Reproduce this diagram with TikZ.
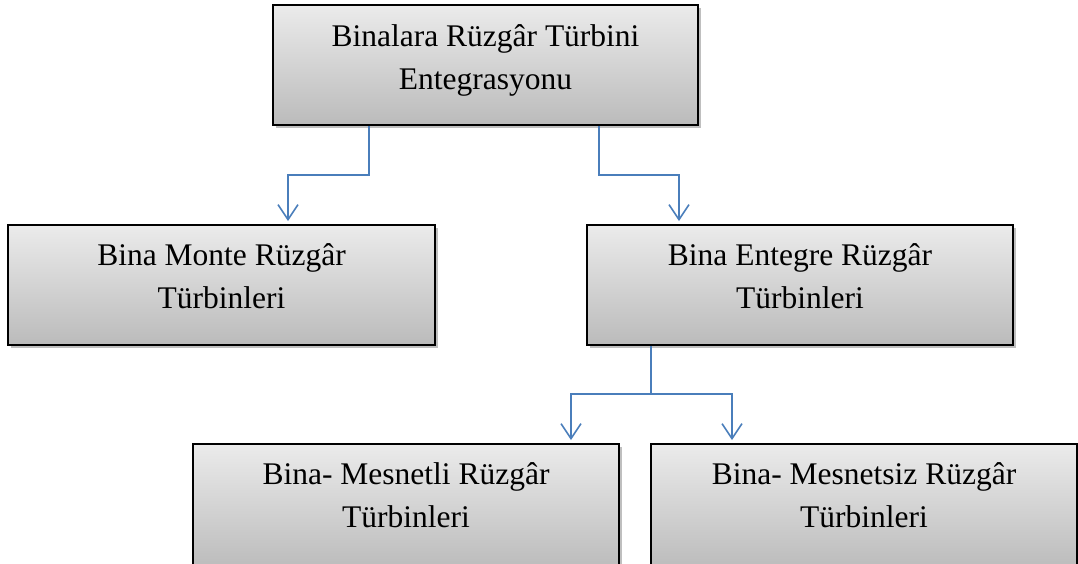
\documentclass[tikz,border=0pt]{standalone}
\usepackage{fontspec}
\setmainfont{Liberation Serif}
\usetikzlibrary{arrows.meta,shadows}
\definecolor{conncol}{HTML}{4A7EBB}
\definecolor{boxtop}{HTML}{EBEBEB}
\definecolor{boxbot}{HTML}{BBBBBB}
\tikzset{
  boxnode/.style={rectangle, draw=black, line width=1.8pt, inner sep=0pt,
    minimum width=426pt, minimum height=120pt,
    top color=boxtop, bottom color=boxbot,
    drop shadow={shadow xshift=2.5pt, shadow yshift=-3pt, fill=black, opacity=0.25}},
  txtnode/.style={anchor=north, inner sep=0pt, align=center,
    font=\fontsize{31.5}{43}\selectfont},
  connline/.style={draw=conncol, line width=1.6pt},
  conn/.style={connline, -{Straight Barb[length=15pt,width=20pt,line width=1.6pt]}, shorten >=3pt},
}
\begin{document}
\begin{tikzpicture}[x=1pt,y=-1pt]
\useasboundingbox (0,0) rectangle (1078,564);
\node[boxnode, minimum width=425pt] (b1) at (485.5,65) {};
\node[boxnode, minimum width=427pt] (b2) at (221.5,285) {};
\node[boxnode] (b3) at (800,285) {};
\node[boxnode, minimum height=126pt] (b4) at (406,507) {};
\node[boxnode, minimum height=126pt] (b5) at (864,507) {};

\node[txtnode] (t1) at ([yshift=-20pt]b1.north) {Binalara Rüzgâr Türbini\\Entegrasyonu};
\node[txtnode] (t2) at ([yshift=-19pt]b2.north) {Bina Monte Rüzgâr\\Türbinleri};
\node[txtnode] (t3) at ([yshift=-19pt]b3.north) {Bina Entegre Rüzgâr\\Türbinleri};
\node[txtnode] (t4) at ([yshift=-19pt]b4.north) {Bina- Mesnetli Rüzgâr\\Türbinleri};
\node[txtnode] (t5) at ([yshift=-19pt]b5.north) {Bina- Mesnetsiz Rüzgâr\\Türbinleri};

\draw[conn] ([xshift=-116.5pt]b1.south) -- ++(0,49) -| ([xshift=66.5pt]b2.north);
\draw[conn] ([xshift=113.5pt]b1.south) -- ++(0,49) -| ([xshift=-121pt]b3.north);
\draw[connline] ([xshift=-149pt]b3.south) -- ++(0,48) coordinate (j);
\draw[conn] (j) -| ([xshift=165pt]b4.north);
\draw[conn] (j) -| ([xshift=-132pt]b5.north);
\end{tikzpicture}
\end{document}
